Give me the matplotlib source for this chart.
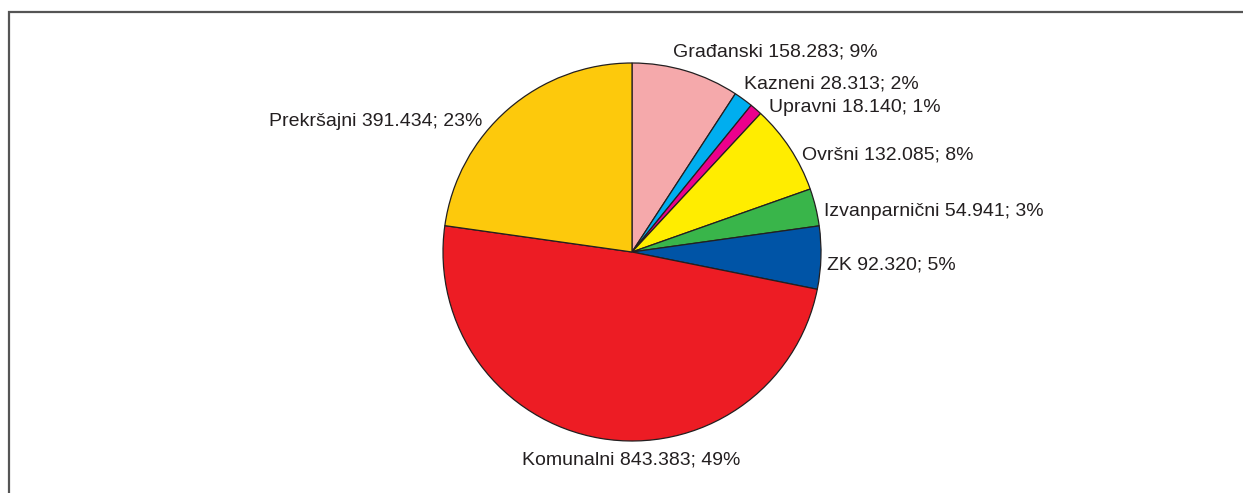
import matplotlib
matplotlib.use("Agg")
import matplotlib.pyplot as plt
from matplotlib.patches import Rectangle

categories = ["Građanski", "Kazneni", "Upravni", "Ovršni", "Izvanparnični", "ZK", "Komunalni", "Prekršajni"]
values = [158283, 28313, 18140, 132085, 54941, 92320, 843383, 391434]
value_labels = ["158.283", "28.313", "18.140", "132.085", "54.941", "92.320", "843.383", "391.434"]
percents = ["9%", "2%", "1%", "8%", "3%", "5%", "49%", "23%"]
colors = ["#F5A9AB", "#00AEEF", "#EC008C", "#FFED00", "#39B54A", "#0054A6", "#ED1C24", "#FDC90C"]

W, H = 1243, 493
fig = plt.figure(figsize=(W / 100, H / 100), dpi=100)
ax = fig.add_axes([0, 0, 1, 1])

cx, cy, r = 632, H - 252, 189
ax.pie(values, colors=colors, startangle=90, counterclock=False,
       center=(cx, cy), radius=r, frame=True,
       wedgeprops=dict(edgecolor="#231F20", linewidth=0.9))
ax.set_xlim(0, W)
ax.set_ylim(0, H)
ax.set_aspect("equal")
ax.axis("off")

# frame
ax.add_patch(Rectangle((9, -20), W + 40, H - 11.5 + 20, fill=False,
                       edgecolor="#555555", linewidth=1.6, clip_on=True))

font = dict(family=["Liberation Sans Narrow", "Liberation Sans", "DejaVu Sans"],
            fontsize=14, color="#231F20")
# label anchor positions (pixel coords, ha)
pos = [(673, 52, "left"), (744, 84, "left"), (769, 107, "left"), (802, 155, "left"),
       (824, 212, "left"), (827, 265, "left"), (631, 460, "center"), (482, 122, "right")]
for c, v, p, (x, y, ha) in zip(categories, value_labels, percents, pos):
    ax.text(x, H - y, f"{c} {v}; {p}", ha=ha, va="center", **font)

fig.savefig("out.png", dpi=100)
